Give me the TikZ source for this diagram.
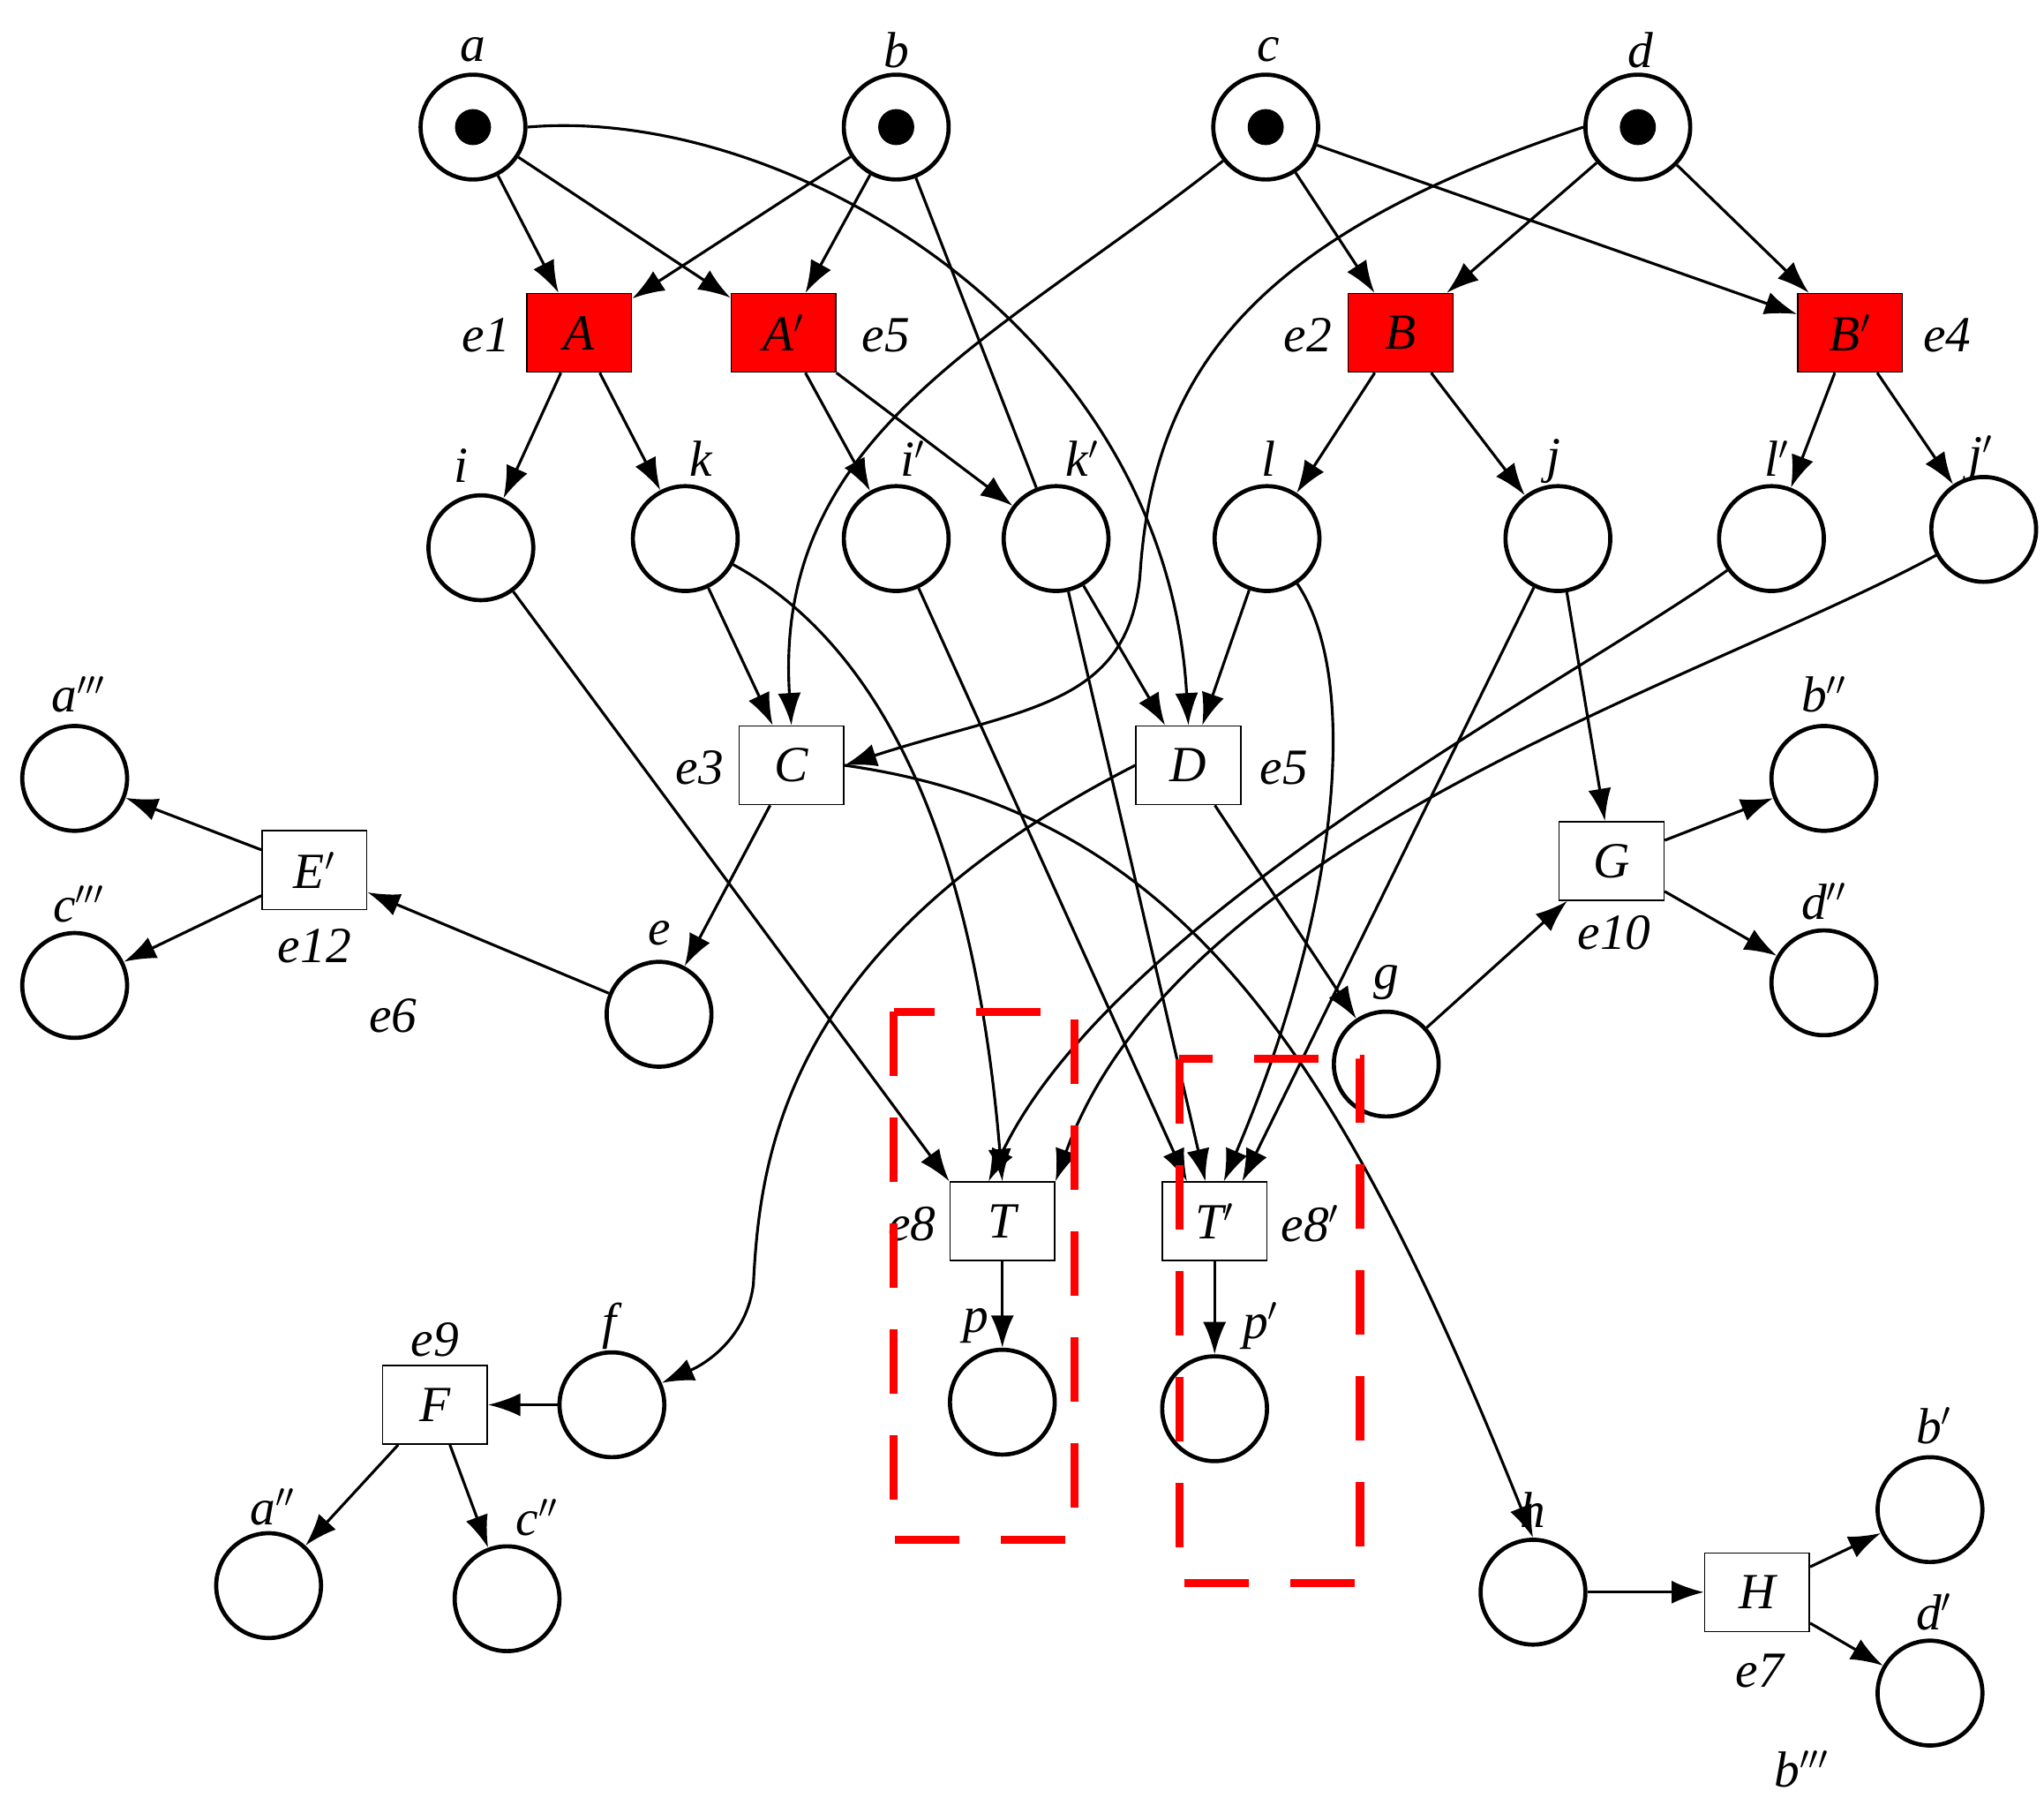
\documentclass[tikz,border=0pt]{standalone}
\usepackage{fontspec}
\setmainfont{Liberation Serif}
\usetikzlibrary{arrows.meta}
\begin{document}
\begin{tikzpicture}[x=0.02cm,y=-0.02cm,
  every node/.style={font=\fontsize{22}{26}\selectfont\itshape},
  pl/.style={circle,draw,line width=1.8pt,minimum size=1.6cm,inner sep=0pt},
  tr/.style={rectangle,draw,line width=0.6pt,minimum width=1.6cm,minimum height=1.2cm,inner sep=0pt},
  rtr/.style={tr,fill=red},
  tok/.style={circle,fill=black,minimum size=0.55cm,inner sep=0pt},
  arc/.style={-{Latex[length=14pt,width=10pt]},line width=1.2pt},
  ln/.style={line width=1.2pt},
  lb/.style={font=\fontsize{22}{26}\selectfont\itshape}]
\useasboundingbox (0,0) rectangle (1560,1372);
% places
\foreach \n/\x/\y/\t/\lx/\ly in {a/361/97/a/361/38,b/684/97/b/684/38,c/966/97/c/968/38,d/1250/97/d/1252/38}{
  \node[pl] (\n) at (\x,\y) {}; \node[tok] at (\x,\y) {}; \node[lb] at (\lx,\ly) {\t};}
\node[pl] (i) at (367,418) {}; \node[lb] at (352,355) {i};
\node[pl] (k) at (523,411) {}; \node[lb] at (535,350) {k};
\node[pl] (ip) at (684,411) {}; \node[lb] at (697,350) {i$'$};
\node[pl] (kp) at (806,411) {}; \node[lb] at (826,350) {k$'$};
\node[pl] (l) at (967,411) {}; \node[lb] at (968,350) {l};
\node[pl] (j) at (1189,411) {}; \node[lb] at (1186,352) {j};
\node[pl] (lp) at (1352,411) {}; \node[lb] at (1356,350) {l$'$};
\node[pl] (jp) at (1514,404) {}; \node[lb] at (1512,350) {j$'$};
\node[pl] (app) at (57,594) {}; \node[lb] at (60,530) {a$'''$};
\node[pl] (cppp) at (57,752) {}; \node[lb] at (60,690) {c$'''$};
\node[pl] (e) at (503,774) {}; \node[lb] at (503,712) {e};
\node[pl] (bpp) at (1392,594) {}; \node[lb] at (1392,530) {b$''$};
\node[pl] (dpp) at (1392,750) {}; \node[lb] at (1392,688) {d$''$};
\node[pl] (g) at (1058,812) {}; \node[lb] at (1058,750) {g};
\node[pl] (p) at (765,1070) {}; \node[lb] at (745,1012) {p};
\node[pl] (pp) at (927,1075) {}; \node[lb] at (962,1012) {p$'$};
\node[pl] (f) at (467,1072) {}; \node[lb] at (465,1012) {f};
\node[pl] (a2) at (205,1210) {}; \node[lb] at (208,1150) {a$''$};
\node[pl] (c2) at (387,1220) {}; \node[lb] at (410,1158) {c$''$};
\node[pl] (h) at (1170,1215) {}; \node[lb] at (1170,1152) {h};
\node[pl] (bp) at (1473,1152) {}; \node[lb] at (1476,1088) {b$'$};
\node[pl] (dp) at (1473,1292) {}; \node[lb] at (1476,1230) {d$'$};
\node[lb] at (300,775) {e6};
\node[lb] at (1375,1350) {b$'''$};
% transitions
\node[rtr] (A) at (442,254) {A}; \node[lb] at (371,256) {e1};
\node[rtr] (Ap) at (598,254) {A$'$}; \node[lb] at (676,256) {e5};
\node[rtr] (B) at (1069,254) {B}; \node[lb] at (998,256) {e2};
\node[rtr] (Bp) at (1412,254) {B$'$}; \node[lb] at (1486,256) {e4};
\node[tr] (C) at (604,584) {C}; \node[lb] at (534,586) {e3};
\node[tr] (D) at (907,584) {D}; \node[lb] at (980,586) {e5};
\node[tr] (Ep) at (240,664) {E$'$}; \node[lb] at (240,722) {e12};
\node[tr] (G) at (1230,657) {G}; \node[lb] at (1232,712) {e10};
\node[tr] (T) at (765,932) {T}; \node[lb] at (696,934) {e8};
\node[tr] (Tp) at (927,932) {T$'$}; \node[lb] at (1000,934) {e8$'$};
\node[tr] (F) at (332,1072) {F}; \node[lb] at (332,1022) {e9};
\node[tr] (H) at (1341,1215) {H}; \node[lb] at (1343,1275) {e7};
% arcs
\draw[arc] (a) -- (A); \draw[arc] (a) -- (Ap);
\draw[arc] (b) -- (A); \draw[arc] (b) -- (Ap);
\draw[arc] (a.east) .. controls (600,80) and (890,250) .. (D.north);
\draw[ln] (b) -- (kp);
\draw[arc] (c) .. controls (760,260) and (590,330) .. (C.north);
\draw[arc] (c) -- (B); \draw[arc] (c) -- (Bp);
\draw[arc] (d) -- (B); \draw[arc] (d) -- (Bp);
\draw[arc] (d.west) .. controls (960,180) and (880,280) .. (870,440) .. controls (860,540) and (780,540) .. (C.east);
\draw[arc] (A) -- (i); \draw[arc] (A) -- (k);
\draw[arc] (Ap) -- (ip); \draw[arc] (Ap) -- (kp);
\draw[arc] (B) -- (l); \draw[arc] (B) -- (j);
\draw[arc] (Bp) -- (lp); \draw[arc] (Bp) -- (jp);
\draw[arc] (i) -- (T.north west);
\draw[arc] (k) -- (C);
\draw[arc] (k) .. controls (650,480) and (740,600) .. (T.north);
\draw[arc] (ip) -- ([xshift=-12pt]Tp.north);
\draw[arc] (kp) -- (D);
\draw[arc] (kp) -- ([xshift=-4pt]Tp.north);
\draw[arc] (l) -- (D);
\draw[arc] (l) .. controls (1040,520) and (1020,700) .. ([xshift=4pt]Tp.north);
\draw[arc] (j) -- ([xshift=12pt]Tp.north);
\draw[arc] (j) -- (G);
\draw[arc] (lp) .. controls (1200,520) and (850,700) .. ([xshift=-6pt]T.north);
\draw[arc] (jp) .. controls (1300,520) and (900,640) .. (T.north east);
\draw[arc] (C) -- (e);
\draw[arc] (C.east) .. controls (900,620) and (1020,800) .. (h.north);
\draw[arc] (D.west) .. controls (600,720) and (580,880) .. (575,980) .. controls (570,1020) and (540,1040) .. (f);
\draw[arc] (D) -- (g);
\draw[arc] (g) -- (G); \draw[arc] (G) -- (bpp); \draw[arc] (G) -- (dpp);
\draw[arc] (e) -- (Ep); \draw[arc] (Ep) -- (app); \draw[arc] (Ep) -- (cppp);
\draw[arc] (f) -- (F); \draw[arc] (F) -- (a2); \draw[arc] (F) -- (c2);
\draw[arc] (T) -- (p); \draw[arc] (Tp) -- (pp);
\draw[arc] (h) -- (H); \draw[arc] (H) -- (bp); \draw[arc] (H) -- (dp);
% dashed boxes
\draw[red,line width=3.5pt,dash pattern=on 28pt off 18pt] (682,772) rectangle (820,1175);
\draw[red,line width=3.5pt,dash pattern=on 28pt off 18pt] (900,808) rectangle (1038,1208);
\end{tikzpicture}
\end{document}
